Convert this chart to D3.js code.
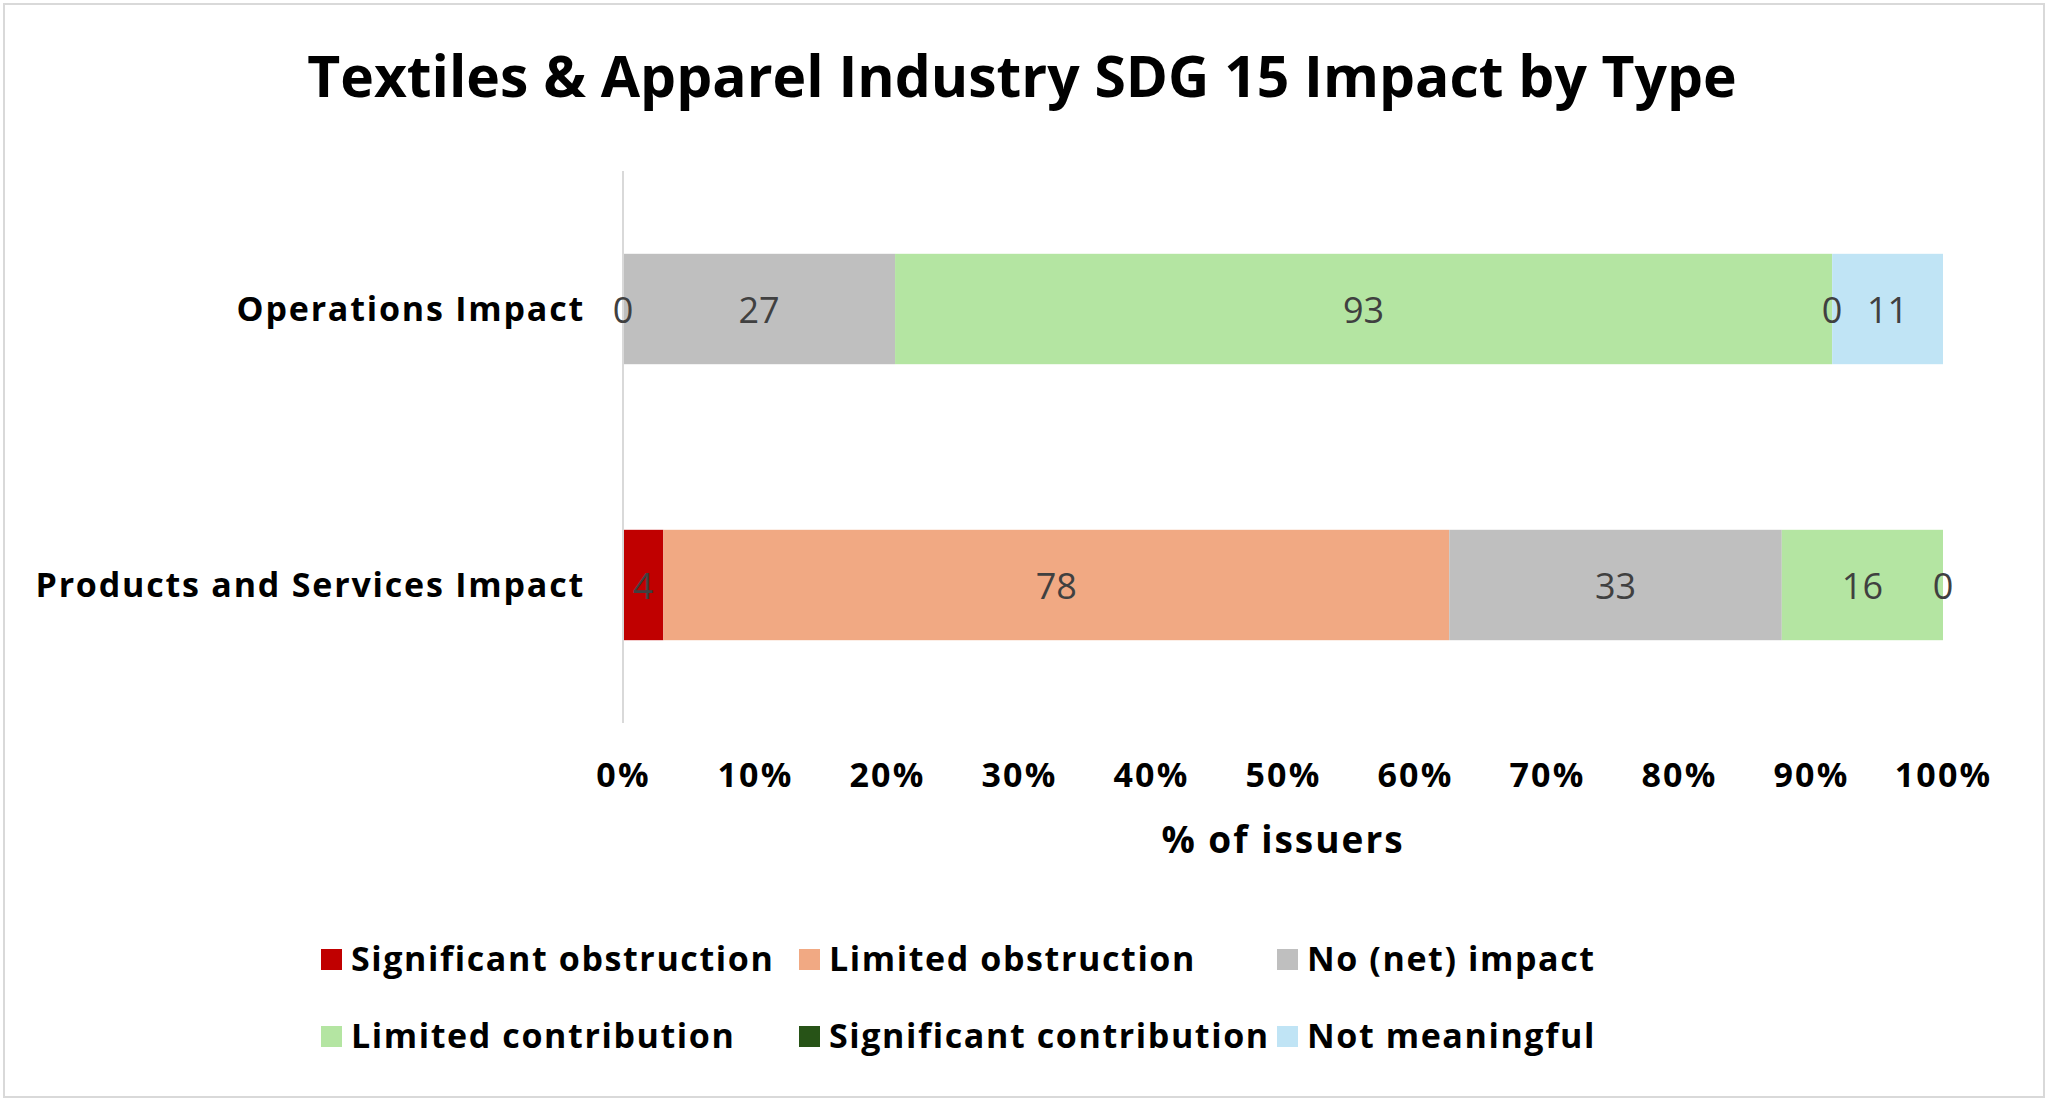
<!DOCTYPE html>
<html>
<head>
<meta charset="utf-8">
<script src="https://cdn.jsdelivr.net/npm/d3@7"></script>
<style>
  body { margin: 0; background: #fff; }
  svg { display: block; }
</style>
</head>
<body>
<svg id="chart" width="2048" height="1102"></svg>
<script>
var categories = ["Operations Impact", "Products and Services Impact"];
var seriesNames = ["Significant obstruction", "Limited obstruction", "No (net) impact",
                   "Limited contribution", "Significant contribution", "Not meaningful"];
var colors = ["#C00000", "#F1A983", "#BFBFBF", "#B4E5A2", "#275317", "#C0E4F5"];
// one row per category, null = blank cell (no label)
var opsValues = [null, 0, 27, 93, 0, 11];
var prodValues = [4, 78, 33, 16, 0, null];
var tickValues = [0, 0.1, 0.2, 0.3, 0.4, 0.5, 0.6, 0.7, 0.8, 0.9, 1];

var rows = [opsValues, prodValues];

var svg = d3.select("#chart");
var W = +svg.attr("width"), H = +svg.attr("height");
var boldFont = "'Open Sans', sans-serif";
var labelFont = "'Open Sans', sans-serif";

// outer frame
svg.append("rect")
  .attr("x", 4).attr("y", 4)
  .attr("width", W - 8).attr("height", H - 9)
  .attr("fill", "#fff")
  .attr("stroke", "#d9d9d9")
  .attr("stroke-width", 2);

svg.append("text")
  .attr("x", 1022).attr("y", 97)
  .attr("text-anchor", "middle")
  .style("font-family", boldFont)
  .style("font-weight", "bold")
  .style("font-size", "57px")
  .attr("fill", "#000")
  .text("Textiles & Apparel Industry SDG 15 Impact by Type");

var margin = {left: 623, right: 2048 - 1943, top: 171, bottom: 1102 - 723};

var x = d3.scaleLinear()
  .domain([0, 1])
  .range([margin.left, W - margin.right]);

var y = d3.scaleBand()
  .domain(categories)
  .range([margin.top, H - margin.bottom])
  .paddingInner(0.6)
  .paddingOuter(0.3);

// build stacked segments as shares of the row total
var segments = [];
rows.forEach(function(vals, r){
  var total = d3.sum(vals, function(v){ return v || 0; });
  var cum = 0;
  vals.forEach(function(v, s){
    if (v === null) return;
    segments.push({cat: categories[r], s: s, v: v, x0: cum / total, x1: (cum + v) / total});
    cum += v;
  });
});

svg.append("g").selectAll("rect")
  .data(segments.filter(function(d){ return d.v > 0; }))
  .enter()
  .append("rect")
  .attr("x", function(d){ return x(d.x0); })
  .attr("width", function(d){ return x(d.x1) - x(d.x0); })
  .attr("y", function(d){ return y(d.cat); })
  .attr("height", y.bandwidth())
  .attr("fill", function(d){ return colors[d.s]; });

// vertical axis line
svg.append("line")
  .attr("x1", x(0)).attr("x2", x(0))
  .attr("y1", margin.top).attr("y2", H - margin.bottom)
  .attr("stroke", "#d9d9d9")
  .attr("stroke-width", 2);

// data labels
svg.append("g").selectAll("text")
  .data(segments)
  .enter()
  .append("text")
  .attr("x", function(d){ return x((d.x0 + d.x1) / 2); })
  .attr("y", function(d){ return y(d.cat) + y.bandwidth() / 2 + 1; })
  .attr("dy", "0.36em")
  .attr("text-anchor", "middle")
  .style("font-family", labelFont)
  .style("font-size", "36px")
  .attr("fill", "#404040")
  .text(function(d){ return d.v; });

// category labels
svg.append("g").selectAll("text")
  .data(categories)
  .enter()
  .append("text")
  .attr("x", x(0) - 38)
  .attr("y", function(d){ return y(d) + y.bandwidth() / 2; })
  .attr("dy", "0.36em")
  .attr("text-anchor", "end")
  .style("font-family", boldFont)
  .style("font-weight", "bold")
  .style("font-size", "34px")
  .style("letter-spacing", "1.8px")
  .attr("fill", "#000")
  .text(function(d){ return d; });

// x axis (no line, labels only)
var xAxis = svg.append("g")
  .attr("transform", "translate(0," + (H - margin.bottom) + ")")
  .call(d3.axisBottom(x).tickValues(tickValues).tickFormat(d3.format(".0%")).tickSize(0).tickPadding(40));
xAxis.select(".domain").remove();
xAxis.selectAll("text")
  .style("font-family", boldFont)
  .style("font-weight", "bold")
  .style("font-size", "34px")
  .style("letter-spacing", "2.2px")
  .attr("fill", "#000");

svg.append("text")
  .attr("x", (x(0) + x(1)) / 2).attr("y", 853)
  .attr("text-anchor", "middle")
  .style("font-family", boldFont)
  .style("font-weight", "bold")
  .style("font-size", "37px")
  .style("letter-spacing", "2px")
  .attr("fill", "#000")
  .text("% of issuers");

// legend: 3 columns x 2 rows
var legendX = [321, 799, 1277], legendY = [959, 1036];
var legend = svg.append("g").selectAll("g")
  .data(seriesNames)
  .enter()
  .append("g")
  .attr("transform", function(d, i){
    return "translate(" + legendX[i % 3] + "," + legendY[Math.floor(i / 3)] + ")";
  });
legend.append("rect")
  .attr("x", 0).attr("y", -10)
  .attr("width", 21).attr("height", 21)
  .attr("fill", function(d, i){ return colors[i]; });
legend.append("text")
  .attr("x", 30).attr("y", 0)
  .attr("dy", "0.36em")
  .style("font-family", boldFont)
  .style("font-weight", "bold")
  .style("font-size", "34px")
  .style("letter-spacing", "1.6px")
  .attr("fill", "#000")
  .text(function(d){ return d; });
</script>
</body>
</html>
